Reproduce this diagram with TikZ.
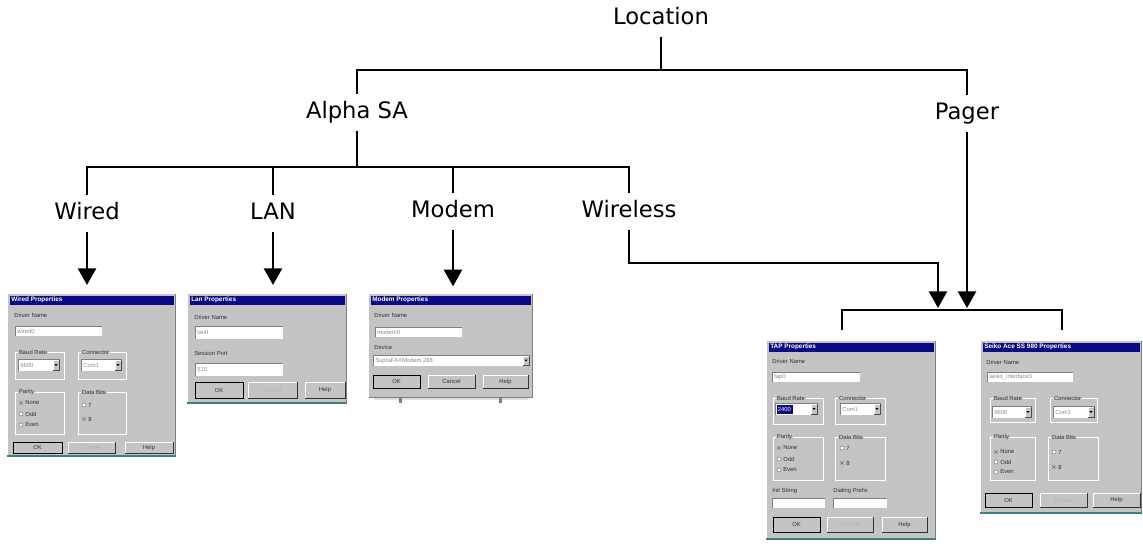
\documentclass[tikz,border=0pt]{standalone}
\usepackage{fontspec}
\setmainfont{DejaVu Sans}
\newfontfamily\dlgfont{Liberation Sans}
\usetikzlibrary{arrows.meta}
\definecolor{dlggray}{HTML}{C4C4C4}
\definecolor{navy}{HTML}{0A0A84}
\definecolor{dkgray}{HTML}{808080}
\definecolor{deskteal}{HTML}{3F7F7F}

\tikzset{
  tree/.style={line width=2pt},
  arr/.style={tree, -{Triangle[width=13.5pt,length=12.5pt]}},
  lbl/.style={font=\fontsize{17pt}{20pt}\selectfont, text height=12.75pt, text depth=4.25pt, inner xsep=2pt, inner ysep=5pt},
  dtxt/.style={font=\dlgfont\fontsize{4.4pt}{5pt}\selectfont, text=black!80, inner sep=0pt},
  dttl/.style={font=\dlgfont\bfseries\fontsize{4.8pt}{5pt}\selectfont, text=white, inner sep=0pt},
  dlgbox/.style={inner sep=0pt, outer sep=0pt, anchor=north west},
}

% ---- dialog widgets (local pixel coordinates, origin = top left of dialog) ----
\newcommand\dlgwin[3]{%
  \fill[dlggray] (0,0) rectangle (#1,#2);
  \draw[white, line width=0.6pt] (0.6,#2) -- (0.6,0.6) -- (#1,0.6);
  \draw[dkgray, line width=0.6pt] (0.6,#2-0.6) -- (#1-0.6,#2-0.6) -- (#1-0.6,0.6);
  \fill[navy] (2.5,2.5) rectangle (#1-2.5,12);
  \node[dttl, anchor=west] at (4,7.3) {#3};
}
\newcommand\dteal[2]{\fill[deskteal] (0,#2-2.5) rectangle (#1,#2);}
\newcommand\dlab[3]{\node[dtxt, anchor=west] at (#1,#2) {#3};}
\newcommand\dfield[5]{%
  \fill[white] (#1,#2) rectangle (#3,#4);
  \draw[dkgray, line width=0.6pt] (#1,#4) -- (#1,#2) -- (#3,#2);
  \node[dtxt, text=black!45, anchor=west] at (#1+2,{(#2+#4)/2}) {#5};
}
\newcommand\dcombo[5]{%
  \dfield{#1}{#2}{#3}{#4}{#5}
  \fill[dlggray] (#3-7,#2+1) rectangle (#3-1,#4-1);
  \draw[white, line width=0.4pt] (#3-7,#4-1) -- (#3-7,#2+1) -- (#3-1,#2+1);
  \draw[black!70, line width=0.4pt] (#3-7,#4-1) -- (#3-1,#4-1) -- (#3-1,#2+1);
  \fill[black] (#3-5.6,{(#2+#4)/2-1}) -- (#3-2.4,{(#2+#4)/2-1}) -- (#3-4,{(#2+#4)/2+1}) -- cycle;
}
\newcommand\dgroup[5]{%
  \draw[dkgray, line width=0.4pt] (#1,#2) rectangle (#3,#4);
  \draw[white, line width=0.4pt] (#1+0.6,#2+0.6) rectangle (#3+0.6,#4+0.6);
  \node[dtxt, fill=dlggray, inner xsep=0.6pt, anchor=west] at (#1+3,#2) {#5};
}
\newcommand\dradio[4]{%
  \draw[dkgray, fill=white, line width=0.4pt] (#1,#2) circle (1.5pt);
  \ifnum#4=1 \fill[black] (#1,#2) circle (0.7pt);\fi
  \node[dtxt, anchor=west] at (#1+4,#2) {#3};
}
\newcommand\dbtn[6]{%
  \fill[dlggray] (#1,#2) rectangle (#3,#4);
  \draw[white, line width=0.6pt] (#1,#4) -- (#1,#2) -- (#3,#2);
  \draw[black!80, line width=0.7pt] (#1,#4) -- (#3,#4) -- (#3,#2);
  \ifnum#6=1 \draw[black, line width=0.5pt] (#1,#2) rectangle (#3,#4);\fi
  \ifnum#6=2 \node[dtxt, text=black!30] at ({(#1+#3)/2},{(#2+#4)/2}) {#5};%
  \else \node[dtxt] at ({(#1+#3)/2},{(#2+#4)/2}) {#5};\fi
}

\begin{document}
\begin{tikzpicture}[x=0.75pt, y=-0.75pt]
\fill[white] (0,0) rectangle (1143,543);
\useasboundingbox (0,0) rectangle (1143,543);

% ---------------- tree labels ----------------
\node[lbl, anchor=base] (loc) at (661,24) {Location};
\node[lbl, anchor=base] (alpha) at (357,118) {Alpha SA};
\node[lbl, anchor=base] (pager) at (967,119) {Pager};
\node[lbl, anchor=base] (wired) at (87,219) {Wired};
\node[lbl, anchor=base] (lan) at (273,219) {LAN};
\node[lbl, anchor=base] (modem) at (453,217) {Modem};
\node[lbl, anchor=base] (wireless) at (629,217) {Wireless};

% ---------------- dialog nodes ----------------
\node[dlgbox, minimum width=126.75pt, minimum height=123pt] (wdlg) at (7,293) {};
\node[dlgbox, minimum width=120pt, minimum height=83.25pt] (ldlg) at (187,293) {};
\node[dlgbox, minimum width=123.75pt, minimum height=78.75pt] (mdlg) at (368,293) {};
\node[dlgbox, minimum width=127.5pt, minimum height=150pt] (tdlg) at (766,340) {};
\node[dlgbox, minimum width=121.5pt, minimum height=130.5pt] (sdlg) at (980,340) {};

% ---------------- connectors ----------------
\coordinate (t1) at (661,70);
\coordinate (t2) at (357,167);
\coordinate (wc) at (938,263);
\coordinate (hubL) at (842,310);
\coordinate (hubR) at (1062,310);

\draw[tree] (loc.south) -- (t1);
\draw[tree] (alpha.north) |- (t1) -| (pager.north);
\draw[tree] (alpha.south) -- (t2);
\draw[tree] (wired.north) |- (t2) -| (wireless.north);
\draw[tree] (lan.north) -- (lan.north |- t2);
\draw[tree] (modem.north) -- (modem.north |- t2);

\draw[arr, shorten >=6pt] (wired.south) -- (wired.south |- wdlg.north);
\draw[arr, shorten >=6pt] (lan.south) -- (lan.south |- ldlg.north);
\draw[arr, shorten >=5pt] (modem.south) -- (modem.south |- mdlg.north);
\draw[arr, shorten >=1.5pt] (wireless.south) |- (wc) -- (wc |- hubL);
\draw[arr, shorten >=1.5pt] (pager.south) -- (pager.south |- hubL);
\draw[tree, shorten <=7.5pt, shorten >=7.5pt] (hubL |- tdlg.north) -- (hubL) -- (hubR) -- (hubR |- sdlg.north);

% ---------------- Wired Properties ----------------
\begin{scope}[shift={(wdlg.north west)}]
  \dlgwin{169}{164}{Wired Properties}
  \dlab{7}{22}{Driver Name}
  \dfield{8}{33}{95}{43}{wired0}
  \dgroup{8}{59}{57}{86}{Baud Rate}
  \dcombo{11}{66}{53}{78}{9600}
  \dgroup{71}{59}{119}{86}{Connector}
  \dcombo{74}{66}{115}{78}{Com1}
  \dgroup{8}{99}{57}{141}{Parity}
  \dradio{14}{110}{None}{1}
  \dradio{14}{121}{Odd}{0}
  \dradio{14}{132}{Even}{0}
  \dgroup{71}{99}{119}{141}{Data Bits}
  \dradio{77}{112}{7}{0}
  \dradio{77}{126}{8}{1}
  \dbtn{6}{149}{55}{160}{OK}{1}
  \dbtn{61}{149}{108}{160}{Cancel}{2}
  \dbtn{118}{149}{166}{160}{Help}{0}
  \dteal{169}{164}
\end{scope}

% ---------------- Lan Properties ----------------
\begin{scope}[shift={(ldlg.north west)}]
  \dlgwin{160}{111}{Lan Properties}
  \dlab{7}{24}{Driver Name}
  \dfield{8}{33}{96}{46}{lan0}
  \dlab{7}{60}{Session Port}
  \dfield{8}{70}{96}{83}{515}
  \dbtn{8}{89}{56}{105}{OK}{1}
  \dbtn{61}{89}{110}{105}{Cancel}{2}
  \dbtn{118}{89}{158}{105}{Help}{0}
  \dteal{160}{111}
\end{scope}

% ---------------- Modem Properties ----------------
\begin{scope}[shift={(mdlg.north west)}]
  \dlgwin{165}{105}{Modem Properties}
  \dlab{6}{22}{Driver Name}
  \dfield{7}{34}{94}{44}{modem0}
  \dlab{6}{54}{Device}
  \dcombo{5}{62}{162}{73}{SupraFAXModem 288}
  \dbtn{5}{82}{52}{95}{OK}{1}
  \dbtn{60}{82}{107}{95}{Cancel}{0}
  \dbtn{115}{82}{160}{95}{Help}{0}
  \fill[black!12] (6,105) rectangle (160,107);
  \fill[dkgray] (31,105) rectangle (34,110);
  \fill[dkgray] (131,105) rectangle (134,110);
\end{scope}

% ---------------- TAP Properties ----------------
\begin{scope}[shift={(tdlg.north west)}]
  \dlgwin{170}{200}{TAP Properties}
  \dlab{6}{21}{Driver Name}
  \dfield{6}{32}{94}{42}{tap0}
  \dgroup{7}{58}{57}{84}{Baud Rate}
  \dcombo{9}{63}{52}{75}{}
  \fill[navy] (10.5,64.5) rectangle (27,73.5);
  \node[dtxt, text=white, anchor=west] at (11.5,69) {2400};
  \dgroup{69}{58}{119}{84}{Connector}
  \dcombo{74}{63}{115}{75}{Com1}
  \dgroup{7}{97}{57}{140}{Parity}
  \dradio{13}{108}{None}{1}
  \dradio{13}{119}{Odd}{0}
  \dradio{13}{130}{Even}{0}
  \dgroup{69}{97}{119}{140}{Data Bits}
  \dradio{76}{108}{7}{0}
  \dradio{76}{123}{8}{1}
  \dlab{6}{151}{Init String}
  \dfield{6}{158}{59}{168}{}
  \dlab{67}{151}{Dialing Prefix}
  \dfield{67}{158}{121}{168}{}
  \dbtn{7}{177}{54}{192}{OK}{1}
  \dbtn{61}{177}{107}{192}{Cancel}{2}
  \dbtn{116}{177}{161}{192}{Help}{0}
  \dteal{170}{200}
\end{scope}

% ---------------- Seiko Properties ----------------
\begin{scope}[shift={(sdlg.north west)}]
  \dlgwin{162}{174}{Seiko Ace SS 980 Properties}
  \dlab{6}{22}{Driver Name}
  \dfield{7}{32}{93}{42}{seiko\_interface0}
  \dgroup{10}{58}{55}{82}{Baud Rate}
  \dcombo{12}{66}{52}{78}{9600}
  \dgroup{70}{58}{117}{82}{Connector}
  \dcombo{73}{66}{115}{78}{Com1}
  \dgroup{10}{97}{55}{140}{Parity}
  \dradio{16}{112}{None}{1}
  \dradio{16}{122}{Odd}{0}
  \dradio{16}{132}{Even}{0}
  \dgroup{68}{97}{118}{140}{Data Bits}
  \dradio{74}{112}{7}{0}
  \dradio{74}{127}{8}{1}
  \dbtn{5}{153}{52}{167}{OK}{1}
  \dbtn{60}{153}{107}{167}{Cancel}{2}
  \dbtn{113}{153}{160}{167}{Help}{0}
  \dteal{162}{174}
\end{scope}
\end{tikzpicture}
\end{document}
